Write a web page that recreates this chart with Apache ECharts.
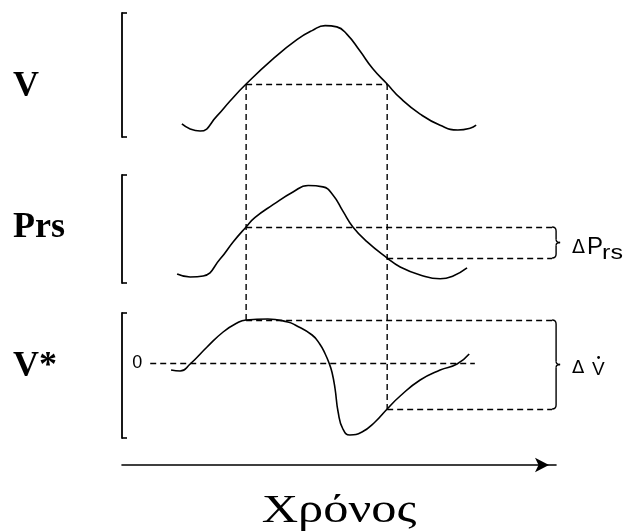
<!DOCTYPE html>
<html><head><meta charset="utf-8">
<script src="https://cdn.jsdelivr.net/npm/echarts@6/dist/echarts.min.js"></script>
<style>html,body{margin:0;padding:0;background:#fff}#c{width:631px;height:532px}</style>
</head><body><div id="c"></div>
<script>
// ---- data (time in arbitrary units 0..100) ----
const panelNames = ['V', 'Prs', 'V*'];
const timeV = [13.8,15.7,18.0,21.9,24.9,28.6,34.8,40.3,43.8,46.8,49.5,51.8,54.8,57.8,61.1,64.1,68.7,73.3,77.4,80.2,81.6];
const volumeV = [10.5,6.5,4.8,17.0,29.0,42.7,63.0,78.5,85.8,89.8,88.8,83.0,69.5,55.0,42.7,31.5,18.5,9.5,5.6,7.0,9.5];
const timeP = [12.7,15.7,18.7,22.6,25.6,28.6,30.6,34.8,39.4,42.9,46.3,48.6,50.9,53.2,56.5,61.1,64.1,68.7,73.3,76.3,79.5];
const pressureP = [8.3,5.6,6.5,22.2,38.0,51.9,60.5,72.5,84.3,90.3,89.0,81.5,66.5,51.9,38.0,23.1,14.8,7.4,3.9,6.5,13.9];
const timeF = [11.3,13.4,15.7,19.6,23.3,26.5,28.6,33.6,38.2,39.9,43.8,45.6,46.8,47.7,48.4,49.1,49.8,50.9,52.5,55.3,58.3,61.1,64.1,68.7,73.3,77.2,80.0];
const flowF = [-5.6,-6.4,-0.8,12.8,24.8,32.0,34.4,35.2,32.8,30.4,22.4,15.0,7.4,0,-7.6,-20.8,-39.2,-52.8,-57.6,-55.2,-47.2,-36.8,-26.4,-13.6,-5.6,-0.8,7.2];
const crossTimes = [28.6, 61.1];      // instants where V crosses the reference level
const vLevel = 42.7;                  // V level at both instants
const prsLevels = [51.9, 23.1];       // Prs at the two instants
const flowLevels = [34.4, -36.8];     // V* at the two instants
const zeroLine = [6.5, 81.3];         // extent of the V* zero line
const braceTime = 99.1;               // where the dashed guides end
const yRanges = [[0, 100], [0, 100], [-60, 40]];
const timeLabel = 'Χρόνος';

const pair = (ts, vs) => ts.map((t, i) => [t, vs[i]]);
const dash = { type: [6, 4], color: '#000', width: 1.4 };
const curve = { color: '#000', width: 1.6 };

const chart = echarts.init(document.getElementById('c'));
const grids = [
  { left: 122, width: 434, top: 13, height: 124 },
  { left: 122, width: 434, top: 175, height: 108 },
  { left: 122, width: 434, top: 313, height: 125 }
];
const xAxes = grids.map((g, i) => ({
  type: 'value', gridIndex: i, min: 0, max: 100,
  show: i === 2, offset: 27,
  axisLine: { show: i === 2, onZero: false, symbol: ['none', 'arrow'], symbolSize: [11, 14], symbolOffset: [0, -7], lineStyle: { color: '#000', width: 1.6 } },
  axisTick: { show: false }, axisLabel: { show: false }, splitLine: { show: false }
}));
const yAxes = grids.map((g, i) => ({
  type: 'value', gridIndex: i, min: yRanges[i][0], max: yRanges[i][1],
  axisLine: { show: true, onZero: false, lineStyle: { color: '#000', width: 1.8 } },
  axisTick: { show: true, inside: true, length: 5, customValues: yRanges[i], lineStyle: { color: '#000', width: 1.6 } },
  axisLabel: { show: false }, splitLine: { show: false }
}));
function seg(a, b, lab) {
  return [{ coord: a, label: lab || { show: false } }, { coord: b }];
}
const series = [
  { type: 'line', xAxisIndex: 0, yAxisIndex: 0, data: pair(timeV, volumeV), smooth: 0.5, showSymbol: false, lineStyle: curve,
    markLine: { silent: true, symbol: ['none', 'none'], lineStyle: dash,
      data: [seg([crossTimes[0], vLevel], [crossTimes[1], vLevel])] } },
  { type: 'line', xAxisIndex: 1, yAxisIndex: 1, data: pair(timeP, pressureP), smooth: 0.5, showSymbol: false, lineStyle: curve,
    markLine: { silent: true, symbol: ['none', 'none'], lineStyle: dash,
      data: [seg([crossTimes[0], prsLevels[0]], [braceTime, prsLevels[0]]),
             seg([crossTimes[1], prsLevels[1]], [braceTime, prsLevels[1]])] } },
  { type: 'line', xAxisIndex: 2, yAxisIndex: 2, data: pair(timeF, flowF), smooth: 0.5, showSymbol: false, lineStyle: curve,
    markLine: { silent: true, symbol: ['none', 'none'], lineStyle: dash,
      data: [seg([zeroLine[0], 0], [zeroLine[1], 0], { show: true, position: 'start', formatter: '0', distance: 8, fontFamily: 'Liberation Sans', fontSize: 18, color: '#000' }),
             seg([crossTimes[0], flowLevels[0]], [braceTime, flowLevels[0]]),
             seg([crossTimes[1], flowLevels[1]], [braceTime, flowLevels[1]])] } }
];
chart.setOption({ animation: false, backgroundColor: '#fff', grid: grids, xAxis: xAxes, yAxis: yAxes, series: series });

// ---- connectors, braces and labels positioned through the axes ----
const px = (g, t, v) => chart.convertToPixel({ gridIndex: g }, [t, v]);
const els = [];
const ink = { stroke: '#000', lineWidth: 1.4 };
crossTimes.forEach((t, i) => {
  const a = px(0, t, vLevel), b = px(2, t, flowLevels[i]);
  els.push({ type: 'line', silent: true, shape: { x1: a[0], y1: a[1], x2: b[0], y2: b[1] }, style: { stroke: '#000', lineWidth: 1.4, lineDash: [6, 4] } });
});
function bz(x1, y1, cx, cy, x2, y2) {
  return { type: 'bezierCurve', silent: true, shape: { x1: x1, y1: y1, cpx1: cx, cpy1: cy, x2: x2, y2: y2 }, style: Object.assign({ fill: null }, ink) };
}
function ln(x1, y1, x2, y2) {
  return { type: 'line', silent: true, shape: { x1: x1, y1: y1, x2: x2, y2: y2 }, style: ink };
}
function brace(x, yT, yB) {
  const m = (yT + yB) / 2;
  els.push(bz(x, yT, x + 4, yT, x + 4, yT + 4));
  els.push(ln(x + 4, yT + 4, x + 4, m - 3));
  els.push(bz(x + 4, m - 3, x + 4, m, x + 8, m));
  els.push(bz(x + 8, m, x + 4, m, x + 4, m + 3));
  els.push(ln(x + 4, m + 3, x + 4, yB - 4));
  els.push(bz(x + 4, yB - 4, x + 4, yB, x, yB));
}
const pT = px(1, braceTime, prsLevels[0]), pB = px(1, braceTime, prsLevels[1]);
const fT = px(2, braceTime, flowLevels[0]), fB = px(2, braceTime, flowLevels[1]);
brace(pT[0], pT[1], pB[1]);
brace(fT[0], fT[1], fB[1]);
const txt = (x, y, s, size, fam, weight, sx) => ({ type: 'text', silent: true, x: x, y: y, scaleX: sx || 1,
  style: { text: s, fontFamily: fam || 'Liberation Sans', fontWeight: weight || 'normal', fontSize: size, fill: '#000', verticalAlign: 'middle', align: 'left' } });
const pm = (pT[1] + pB[1]) / 2, fm = (fT[1] + fB[1]) / 2, lx = pT[0] + 20;
els.push(txt(lx, pm + 6, 'Δ', 19, 'DejaVu Sans'));
els.push(txt(lx + 15, pm + 5, 'P', 24));
els.push(txt(lx + 30, pm + 11, 'rs', 20, 'Liberation Sans', 'normal', 1.25));
els.push(txt(lx, fm + 4, 'Δ', 18, 'DejaVu Sans'));
els.push(txt(lx + 20, fm + 5, 'V', 19));
els.push({ type: 'circle', silent: true, shape: { cx: lx + 26.5, cy: fm - 7, r: 1.4 }, style: { fill: '#000' } });
// panel labels
const labelY = [87, 228, 367];
panelNames.forEach((n, i) => els.push(txt(13, labelY[i], n, 36, 'Liberation Serif', 'bold')));
// time label, centred under the time axis
const mid = px(2, 50, 0)[0];
els.push({ type: 'text', silent: true, x: mid, y: 511, scaleX: 1.26, originX: 0,
  style: { text: timeLabel, fontFamily: 'Liberation Serif', fontSize: 40, fill: '#000', align: 'center', verticalAlign: 'middle' } });
chart.setOption({ graphic: { elements: els } });
</script></body></html>
